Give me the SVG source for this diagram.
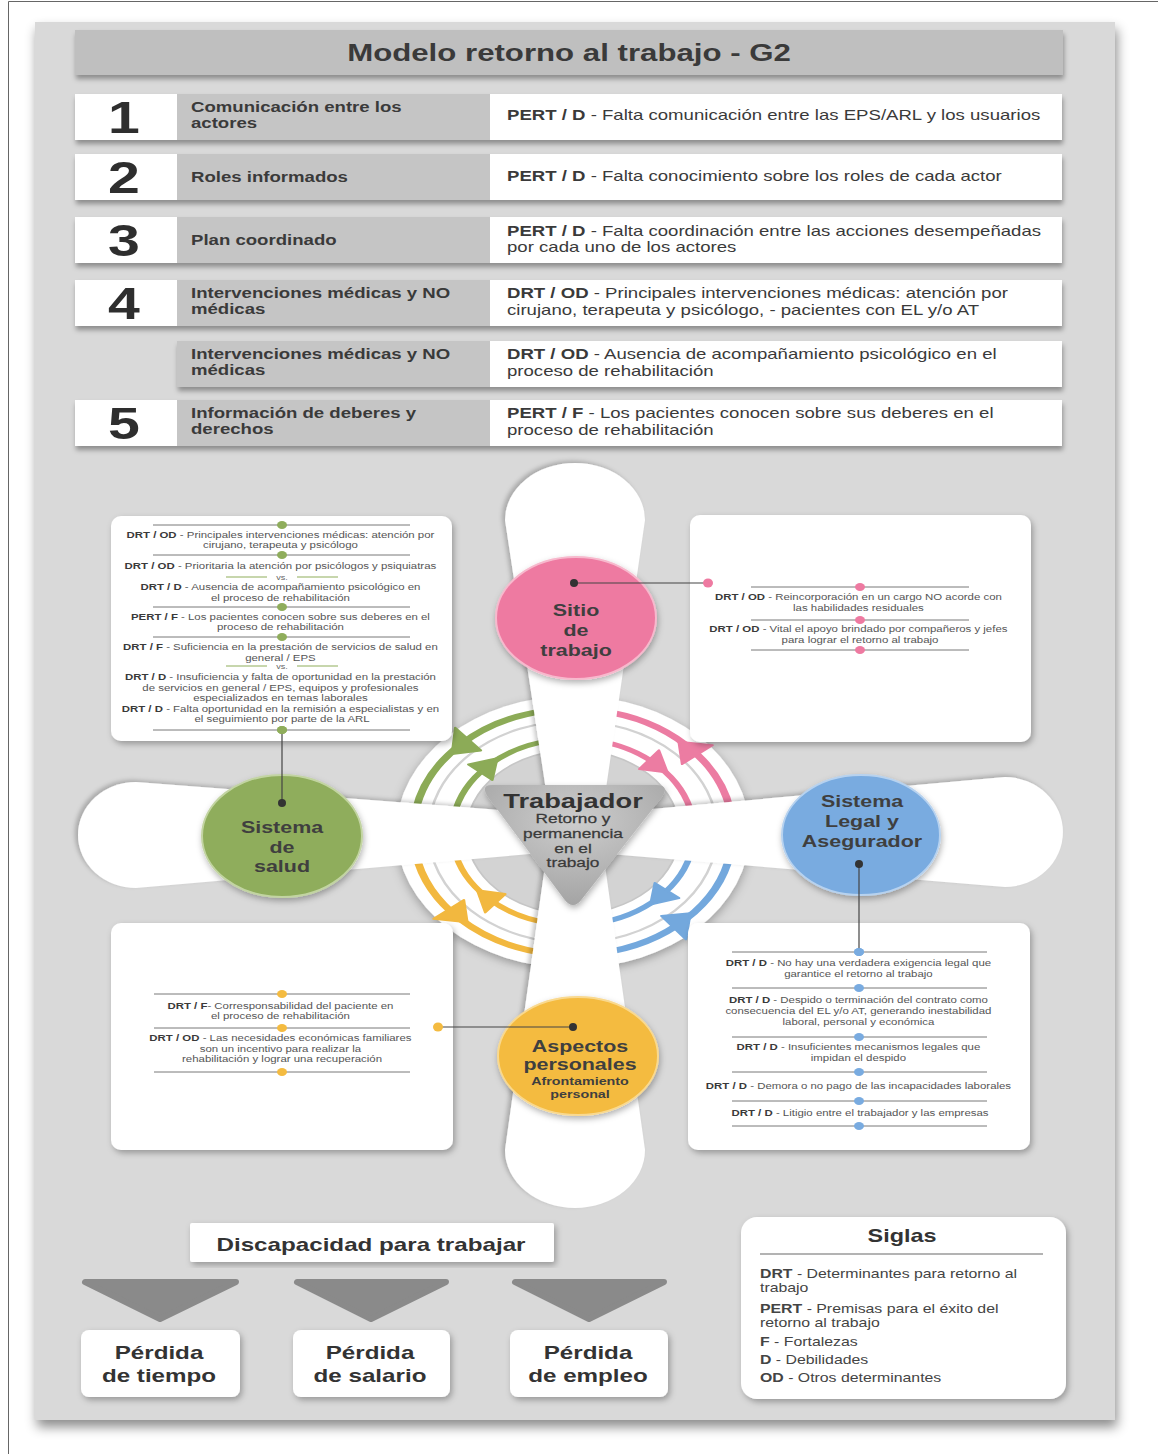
<svg xmlns="http://www.w3.org/2000/svg" width="1158" height="1454" viewBox="0 0 1158 1454">
<defs>
<style>
text{font-family:"Liberation Sans",Arial,Helvetica,sans-serif;fill:#3a3a3a}
.b{font-weight:bold}
.ttl{font-size:24px;font-weight:bold;text-anchor:middle}
.num{font-size:44px;font-weight:bold;text-anchor:middle;fill:#2e2e2e}
.lab{font-size:14.3px;font-weight:bold}
.dsc{font-size:14.3px}
.bx{font-size:8.8px;text-anchor:middle;fill:#555}
.bx .b{fill:#3a3a3a}
.vs{font-size:7px;text-anchor:middle;fill:#666}
.nd{font-size:16.5px;font-weight:bold;text-anchor:middle;fill:#3f3f3f}
.ndS{font-size:11px;font-weight:bold;text-anchor:middle;fill:#3f3f3f}
.tb{font-size:21px;font-weight:bold;text-anchor:middle;fill:#333}
.tbs{font-size:13.3px;text-anchor:middle;fill:#3a3a3a;stroke:#3a3a3a;stroke-width:.25}
.big{font-size:18.6px;font-weight:bold;text-anchor:middle;fill:#333}
.sg{font-size:12.2px;fill:#444}
.sgt{font-size:18px;font-weight:bold;text-anchor:middle;fill:#333}
.cell{fill:#fff}
.gcell{fill:#c5c5c5}
.sep{stroke:#555;stroke-width:.8}
.card{fill:#fff}
.petal{fill:#fff}
.link{stroke:#444;stroke-width:1.2;fill:none}
.pin{fill:#333}
</style>
<filter id="shRow" x="-5%" y="-20%" width="110%" height="160%">
  <feDropShadow dx="1" dy="4" stdDeviation="2.5" flood-color="#000" flood-opacity="0.35"/>
</filter>
<filter id="shCard" x="-10%" y="-10%" width="125%" height="125%">
  <feDropShadow dx="2" dy="3" stdDeviation="3" flood-color="#000" flood-opacity="0.3"/>
</filter>
<filter id="shPanel" x="-5%" y="-5%" width="110%" height="110%">
  <feDropShadow dx="2" dy="7" stdDeviation="6" flood-color="#000" flood-opacity="0.45"/>
</filter>
<filter id="shPetal" x="-20%" y="-20%" width="140%" height="140%">
  <feDropShadow dx="-3" dy="-2" stdDeviation="2" flood-color="#000" flood-opacity="0.22"/>
</filter>
<filter id="shRing" x="-20%" y="-20%" width="140%" height="140%">
  <feDropShadow dx="0" dy="3" stdDeviation="4" flood-color="#000" flood-opacity="0.3"/>
</filter>
<filter id="shNode" x="-20%" y="-20%" width="140%" height="140%">
  <feDropShadow dx="1" dy="3" stdDeviation="3" flood-color="#000" flood-opacity="0.3"/>
</filter>
<radialGradient id="gTri" cx="50%" cy="30%" r="70%">
  <stop offset="0" stop-color="#cdcdcd"/>
  <stop offset="1" stop-color="#a4a4a4"/>
</radialGradient>
<!-- arrowheads drawn at angle 0 of the ring; outer points counter-clockwise, inner clockwise -->
<path id="aho" d="M108,0 L138,0 L120,-19 Z" stroke-width="2" stroke-linejoin="round"/>
<path id="ahi" d="M81,0 L105,0 L92,19 Z" stroke-width="2" stroke-linejoin="round"/>
</defs>

<!-- frame and background panel -->
<rect width="1158" height="1454" fill="#fff"/>
<path d="M1158,1.5 H8.5 V1454" fill="none" stroke="#666" stroke-width="1"/>
<rect x="35" y="22" width="1080" height="1398" fill="#d9d9d9" filter="url(#shPanel)"/>

<!-- header -->
<g id="titulo">
  <rect x="75" y="30" width="988" height="45" fill="#bfbfbf" filter="url(#shRow)"/>
  <text class="ttl" transform="matrix(1.3 0 0 1 569 0)" y="61">Modelo retorno al trabajo - G2</text>
</g>

<!-- table rows -->
<g id="fila1">
  <g filter="url(#shRow)">
    <rect class="cell" x="75" y="94" width="102" height="46"/>
    <rect class="gcell" x="177" y="94" width="313" height="46"/>
    <rect class="cell" x="490" y="94" width="572" height="46"/>
  </g>
  <text class="num" transform="matrix(1.3 0 0 1 124 0)" y="133">1</text>
  <text class="lab" transform="matrix(1.3 0 0 1 191 0)"><tspan x="0" y="112">Comunicación entre los</tspan><tspan x="0" y="128">actores</tspan></text>
  <text class="dsc" transform="matrix(1.3 0 0 1 507 0)" y="120"><tspan class="b">PERT / D</tspan> - Falta comunicación entre las EPS/ARL y los usuarios</text>
</g>
<g id="fila2">
  <g filter="url(#shRow)">
    <rect class="cell" x="75" y="154" width="102" height="46"/>
    <rect class="gcell" x="177" y="154" width="313" height="46"/>
    <rect class="cell" x="490" y="154" width="572" height="46"/>
  </g>
  <text class="num" transform="matrix(1.3 0 0 1 124 0)" y="193">2</text>
  <text class="lab" transform="matrix(1.3 0 0 1 191 0)" y="182">Roles informados</text>
  <text class="dsc" transform="matrix(1.3 0 0 1 507 0)" y="181"><tspan class="b">PERT / D</tspan> - Falta conocimiento sobre los roles de cada actor</text>
</g>
<g id="fila3">
  <g filter="url(#shRow)">
    <rect class="cell" x="75" y="217" width="102" height="46"/>
    <rect class="gcell" x="177" y="217" width="313" height="46"/>
    <rect class="cell" x="490" y="217" width="572" height="46"/>
  </g>
  <text class="num" transform="matrix(1.3 0 0 1 124 0)" y="256">3</text>
  <text class="lab" transform="matrix(1.3 0 0 1 191 0)" y="245">Plan coordinado</text>
  <text class="dsc" transform="matrix(1.3 0 0 1 507 0)"><tspan x="0" y="236"><tspan class="b">PERT / D</tspan> - Falta coordinación entre las acciones desempeñadas</tspan><tspan x="0" y="252">por cada uno de los actores</tspan></text>
</g>
<g id="fila4">
  <g filter="url(#shRow)">
    <rect class="cell" x="75" y="280" width="102" height="46"/>
    <rect class="gcell" x="177" y="280" width="313" height="46"/>
    <rect class="cell" x="490" y="280" width="572" height="46"/>
  </g>
  <text class="num" transform="matrix(1.3 0 0 1 124 0)" y="319">4</text>
  <text class="lab" transform="matrix(1.3 0 0 1 191 0)"><tspan x="0" y="298">Intervenciones médicas y NO</tspan><tspan x="0" y="314">médicas</tspan></text>
  <text class="dsc" transform="matrix(1.3 0 0 1 507 0)"><tspan x="0" y="298"><tspan class="b">DRT / OD</tspan> - Principales intervenciones médicas: atención por</tspan><tspan x="0" y="315">cirujano, terapeuta y psicólogo, - pacientes con EL y/o AT</tspan></text>
</g>
<g id="fila4b">
  <g filter="url(#shRow)">
    <rect class="gcell" x="177" y="341" width="313" height="46"/>
    <rect class="cell" x="490" y="341" width="572" height="46"/>
  </g>
  <text class="lab" transform="matrix(1.3 0 0 1 191 0)"><tspan x="0" y="359">Intervenciones médicas y NO</tspan><tspan x="0" y="375">médicas</tspan></text>
  <text class="dsc" transform="matrix(1.3 0 0 1 507 0)"><tspan x="0" y="359"><tspan class="b">DRT / OD</tspan> - Ausencia de acompañamiento psicológico en el</tspan><tspan x="0" y="376">proceso de rehabilitación</tspan></text>
</g>
<g id="fila5">
  <g filter="url(#shRow)">
    <rect class="cell" x="75" y="400" width="102" height="46"/>
    <rect class="gcell" x="177" y="400" width="313" height="46"/>
    <rect class="cell" x="490" y="400" width="572" height="46"/>
  </g>
  <text class="num" transform="matrix(1.3 0 0 1 124 0)" y="439">5</text>
  <text class="lab" transform="matrix(1.3 0 0 1 191 0)"><tspan x="0" y="418">Información de deberes y</tspan><tspan x="0" y="434">derechos</tspan></text>
  <text class="dsc" transform="matrix(1.3 0 0 1 507 0)"><tspan x="0" y="418"><tspan class="b">PERT / F</tspan> - Los pacientes conocen sobre sus deberes en el</tspan><tspan x="0" y="435">proceso de rehabilitación</tspan></text>
</g>

<!-- central cycle: rings and flow arrows (drawn round, stretched to the page aspect) -->
<g id="ciclo" transform="matrix(1.3 0 0 1 573 832)">
  <circle r="136" fill="#fff" filter="url(#shRing)"/>
  <circle r="111" fill="none" stroke="#d2d2d2" stroke-width="2"/>
  <circle r="82" fill="#d3d3d3" stroke="#c6c6c6" stroke-width="1.5"/>
  <g fill="none" stroke-width="6">
    <path stroke="#8cab57" d="M-121.1,-21.4 A123,123 0 0 1 -21.4,-121.1"/>
    <path stroke="#ec7ca2" d="M21.4,-121.1 A123,123 0 0 1 121.1,-21.4"/>
    <path stroke="#73a8dd" d="M121.1,21.4 A123,123 0 0 1 21.4,121.1"/>
    <path stroke="#f2b83f" d="M-21.4,121.1 A123,123 0 0 1 -121.1,21.4"/>
  </g>
  <g fill="none" stroke-width="5">
    <path stroke="#8cab57" d="M-91.6,-16.1 A93,93 0 0 1 -16.1,-91.6"/>
    <path stroke="#ec7ca2" d="M16.1,-91.6 A93,93 0 0 1 91.6,-16.1"/>
    <path stroke="#73a8dd" d="M91.6,16.1 A93,93 0 0 1 16.1,91.6"/>
    <path stroke="#f2b83f" d="M-16.1,91.6 A93,93 0 0 1 -91.6,16.1"/>
  </g>
  <use href="#aho" fill="#8cab57" stroke="#8cab57" transform="rotate(229)"/>
  <use href="#aho" fill="#ec7ca2" stroke="#ec7ca2" transform="rotate(321)"/>
  <use href="#aho" fill="#73a8dd" stroke="#73a8dd" transform="rotate(51)"/>
  <use href="#aho" fill="#f2b83f" stroke="#f2b83f" transform="rotate(141)"/>
  <use href="#ahi" fill="#8cab57" stroke="#8cab57" transform="rotate(220)"/>
  <use href="#ahi" fill="#ec7ca2" stroke="#ec7ca2" transform="rotate(309)"/>
  <use href="#ahi" fill="#73a8dd" stroke="#73a8dd" transform="rotate(39)"/>
  <use href="#ahi" fill="#f2b83f" stroke="#f2b83f" transform="rotate(130)"/>
</g>

<!-- petals radiating from the centre -->
<g id="petalos" filter="url(#shPetal)">
  <path class="petal" d="M552,830 L505,520 A70,57 0 0 1 645,520 L600,830 Z"/>
  <path class="petal" d="M550,830 L505,1150 A70,58 0 0 0 645,1150 L600,830 Z"/>
  <path class="petal" d="M565,815 L136,782 A58,53 0 0 0 136,888 L565,851 Z"/>
  <path class="petal" d="M585,815 L1005,777 A58,55 0 0 1 1005,887 L585,852 Z"/>
</g>

<!-- centre: worker -->
<g id="trabajador">
  <path d="M492,785 L656,785 Q670,785 662,797 L582,899 Q573,911 564,899 L488,797 Q480,785 492,785 Z" fill="url(#gTri)" filter="url(#shNode)"/>
  <text class="tb" transform="matrix(1.3 0 0 1 573 0)" y="808">Trabajador</text>
  <text class="tbs" transform="matrix(1.3 0 0 1 573 0)"><tspan x="0" y="823">Retorno y</tspan><tspan x="0" y="838">permanencia</tspan><tspan x="0" y="853">en el</tspan><tspan x="0" y="867">trabajo</tspan></text>
</g>

<!-- actor nodes -->
<g id="sitio-trabajo">
  <ellipse cx="576" cy="618" rx="80" ry="61" fill="#ee7aa1" stroke="#f7b9cd" stroke-width="2" filter="url(#shNode)"/>
  <text class="nd" transform="matrix(1.3 0 0 1 576 0)"><tspan x="0" y="616">Sitio</tspan><tspan x="0" y="636">de</tspan><tspan x="0" y="656">trabajo</tspan></text>
</g>
<g id="sistema-salud">
  <ellipse cx="282" cy="836" rx="80" ry="61" fill="#8fad5b" stroke="#c2d4a2" stroke-width="2" filter="url(#shNode)"/>
  <text class="nd" transform="matrix(1.3 0 0 1 282 0)"><tspan x="0" y="833">Sistema</tspan><tspan x="0" y="853">de</tspan><tspan x="0" y="872">salud</tspan></text>
</g>
<g id="sistema-legal">
  <ellipse cx="861" cy="835" rx="79" ry="60" fill="#79abe0" stroke="#b7d2ef" stroke-width="2" filter="url(#shNode)"/>
  <text class="nd" transform="matrix(1.3 0 0 1 862 0)"><tspan x="0" y="807">Sistema</tspan><tspan x="0" y="827">Legal y</tspan><tspan x="0" y="847">Asegurador</tspan></text>
</g>
<g id="aspectos-personales">
  <ellipse cx="578" cy="1056" rx="80" ry="59" fill="#f4bb40" stroke="#f9d98f" stroke-width="2" filter="url(#shNode)"/>
  <text class="nd" transform="matrix(1.3 0 0 1 580 0)"><tspan x="0" y="1052">Aspectos</tspan><tspan x="0" y="1070">personales</tspan></text>
  <text class="ndS" transform="matrix(1.3 0 0 1 580 0)"><tspan x="0" y="1085">Afrontamiento</tspan><tspan x="0" y="1098">personal</tspan></text>
</g>

<!-- determinant cards -->
<g id="card-salud">
  <rect class="card" x="111" y="516" width="341" height="225" rx="10" filter="url(#shCard)"/>
  <g class="sep">
    <line x1="153" y1="525" x2="410" y2="525"/><line x1="153" y1="555" x2="410" y2="555"/>
    <line x1="153" y1="607" x2="410" y2="607"/><line x1="153" y1="637" x2="410" y2="637"/>
    <line x1="153" y1="730" x2="410" y2="730"/>
  </g>
  <g stroke="#8fad5b" stroke-width="1">
    <line x1="226" y1="577" x2="267" y2="577"/><line x1="297" y1="577" x2="338" y2="577"/>
    <line x1="226" y1="666" x2="267" y2="666"/><line x1="297" y1="666" x2="338" y2="666"/>
  </g>
  <g fill="#8fad5b">
    <ellipse cx="282" cy="525" rx="5" ry="4"/><ellipse cx="282" cy="555" rx="5" ry="4"/>
    <ellipse cx="282" cy="607" rx="5" ry="4"/><ellipse cx="282" cy="637" rx="5" ry="4"/>
    <ellipse cx="282" cy="730" rx="5" ry="4"/>
  </g>
  <text class="bx" transform="matrix(1.3 0 0 1 282 0)">
    <tspan x="0" y="538"><tspan class="b">DRT / OD</tspan> - Principales intervenciones médicas: atención por</tspan>
    <tspan x="0" y="548">cirujano, terapeuta y psicólogo</tspan>
    <tspan x="0" y="569"><tspan class="b">DRT / OD</tspan> - Prioritaria la atención por psicólogos y psiquiatras</tspan>
    <tspan x="0" y="590"><tspan class="b">DRT / D</tspan> - Ausencia de acompañamiento psicológico en</tspan>
    <tspan x="0" y="601">el proceso de rehabilitación</tspan>
    <tspan x="0" y="620"><tspan class="b">PERT / F</tspan> - Los pacientes conocen sobre sus deberes en el</tspan>
    <tspan x="0" y="630">proceso de rehabilitación</tspan>
    <tspan x="0" y="650"><tspan class="b">DRT / F</tspan> - Suficiencia en la prestación de servicios de salud en</tspan>
    <tspan x="0" y="661">general / EPS</tspan>
    <tspan x="0" y="680"><tspan class="b">DRT / D</tspan> - Insuficiencia y falta de oportunidad en la prestación</tspan>
    <tspan x="0" y="691">de servicios en general / EPS, equipos y profesionales</tspan>
    <tspan x="0" y="701">especializados en temas laborales</tspan>
    <tspan x="0" y="712"><tspan class="b">DRT / D</tspan> - Falta oportunidad en la remisión a especialistas y en</tspan>
    <tspan x="0" y="722">el seguimiento por parte de la ARL</tspan>
  </text>
  <text class="vs" transform="matrix(1.3 0 0 1 282 0)"><tspan x="0" y="580">vs.</tspan><tspan x="0" y="669">vs.</tspan></text>
</g>

<g id="card-trabajo">
  <rect class="card" x="690" y="515" width="341" height="227" rx="10" filter="url(#shCard)"/>
  <g class="sep">
    <line x1="751" y1="587" x2="969" y2="587"/><line x1="751" y1="620" x2="969" y2="620"/>
    <line x1="751" y1="650" x2="969" y2="650"/>
  </g>
  <g fill="#ee7aa1">
    <ellipse cx="860" cy="587" rx="5" ry="4"/><ellipse cx="860" cy="620" rx="5" ry="4"/>
    <ellipse cx="860" cy="650" rx="5" ry="4"/>
  </g>
  <text class="bx" transform="matrix(1.3 0 0 1 860 0)">
    <tspan x="0" y="600"><tspan class="b">DRT / OD</tspan> - Reincorporación en un cargo NO acorde con</tspan>
    <tspan x="0" y="611">las habilidades residuales</tspan>
    <tspan x="0" y="632"><tspan class="b">DRT / OD</tspan> - Vital el apoyo brindado por compañeros y jefes</tspan>
    <tspan x="0" y="643">para lograr el retorno al trabajo</tspan>
  </text>
</g>

<g id="card-personal">
  <rect class="card" x="111" y="923" width="342" height="227" rx="10" filter="url(#shCard)"/>
  <g class="sep">
    <line x1="154" y1="994" x2="410" y2="994"/><line x1="154" y1="1028" x2="410" y2="1028"/>
    <line x1="154" y1="1072" x2="410" y2="1072"/>
  </g>
  <g fill="#f4bb40">
    <ellipse cx="282" cy="994" rx="5" ry="4"/><ellipse cx="282" cy="1028" rx="5" ry="4"/>
    <ellipse cx="282" cy="1072" rx="5" ry="4"/>
  </g>
  <text class="bx" transform="matrix(1.3 0 0 1 282 0)">
    <tspan x="0" y="1009"><tspan class="b">DRT / F</tspan>- Corresponsabilidad del paciente en</tspan>
    <tspan x="0" y="1019">el proceso de rehabilitación</tspan>
    <tspan x="0" y="1041"><tspan class="b">DRT / OD</tspan> - Las necesidades económicas familiares</tspan>
    <tspan x="0" y="1052">son un incentivo para realizar la</tspan>
    <tspan x="0" y="1062">rehabilitación y lograr una recuperación</tspan>
  </text>
</g>

<g id="card-legal">
  <rect class="card" x="688" y="923" width="342" height="227" rx="10" filter="url(#shCard)"/>
  <g class="sep">
    <line x1="732" y1="952" x2="987" y2="952"/><line x1="732" y1="988" x2="987" y2="988"/>
    <line x1="732" y1="1037" x2="987" y2="1037"/><line x1="732" y1="1072" x2="987" y2="1072"/>
    <line x1="732" y1="1101" x2="987" y2="1101"/><line x1="732" y1="1126" x2="987" y2="1126"/>
  </g>
  <g fill="#79abe0">
    <ellipse cx="859" cy="952" rx="5" ry="4"/><ellipse cx="859" cy="988" rx="5" ry="4"/>
    <ellipse cx="859" cy="1037" rx="5" ry="4"/><ellipse cx="859" cy="1072" rx="5" ry="4"/>
    <ellipse cx="859" cy="1101" rx="5" ry="4"/><ellipse cx="859" cy="1126" rx="5" ry="4"/>
  </g>
  <text class="bx" transform="matrix(1.3 0 0 1 860 0)">
    <tspan x="0" y="966"><tspan class="b">DRT / D</tspan> - No hay una verdadera exigencia legal que</tspan>
    <tspan x="0" y="977">garantice el retorno al trabajo</tspan>
    <tspan x="0" y="1003"><tspan class="b">DRT / D</tspan> - Despido o terminación del contrato como</tspan>
    <tspan x="0" y="1014">consecuencia del EL y/o AT, generando inestabilidad</tspan>
    <tspan x="0" y="1025">laboral, personal y económica</tspan>
    <tspan x="0" y="1050"><tspan class="b">DRT / D</tspan> - Insuficientes mecanismos legales que</tspan>
    <tspan x="0" y="1061">impidan el despido</tspan>
    <tspan x="0" y="1089"><tspan class="b">DRT / D</tspan> - Demora o no pago de las incapacidades laborales</tspan>
    <tspan x="0" y="1116"><tspan class="b">DRT / D</tspan> - Litigio entre el trabajador y las empresas</tspan>
  </text>
</g>

<!-- leader lines from each actor to its card -->
<g id="conectores">
  <line class="link" x1="574" y1="583" x2="708" y2="583"/>
  <line class="link" x1="282" y1="803" x2="282" y2="730"/>
  <line class="link" x1="859" y1="864" x2="859" y2="952"/>
  <line class="link" x1="573" y1="1027" x2="438" y2="1027"/>
  <circle class="pin" cx="574" cy="583" r="4"/>
  <circle class="pin" cx="282" cy="803" r="4"/>
  <circle class="pin" cx="859" cy="864" r="4"/>
  <circle class="pin" cx="573" cy="1027" r="4"/>
  <ellipse cx="708" cy="583" rx="5" ry="4.5" fill="#ee7aa1"/>
  <ellipse cx="282" cy="730" rx="5" ry="4" fill="#8fad5b"/>
  <ellipse cx="859" cy="952" rx="5" ry="4" fill="#79abe0"/>
  <ellipse cx="438" cy="1027" rx="5" ry="4.5" fill="#f4bb40"/>
</g>

<!-- consequences -->
<g id="discapacidad">
  <rect x="190" y="1223" width="364" height="39" fill="#fff" rx="2" filter="url(#shCard)"/>
  <text class="big" transform="matrix(1.3 0 0 1 371 0)" y="1251">Discapacidad para trabajar</text>
</g>
<g id="flechas-perdida" fill="#8a8a8a" stroke="#8a8a8a" stroke-width="6" stroke-linejoin="round">
  <polygon points="85,1282 236,1282 160,1319"/>
  <polygon points="297,1282 446,1282 371,1319"/>
  <polygon points="515,1282 664,1282 589,1319"/>
</g>
<g id="perdida-tiempo">
  <rect x="81" y="1330" width="159" height="67" rx="8" fill="#fff" filter="url(#shCard)"/>
  <text class="big" transform="matrix(1.3 0 0 1 159 0)"><tspan x="0" y="1359">Pérdida</tspan><tspan x="0" y="1382">de tiempo</tspan></text>
</g>
<g id="perdida-salario">
  <rect x="293" y="1330" width="157" height="67" rx="8" fill="#fff" filter="url(#shCard)"/>
  <text class="big" transform="matrix(1.3 0 0 1 370 0)"><tspan x="0" y="1359">Pérdida</tspan><tspan x="0" y="1382">de salario</tspan></text>
</g>
<g id="perdida-empleo">
  <rect x="510" y="1330" width="158" height="67" rx="8" fill="#fff" filter="url(#shCard)"/>
  <text class="big" transform="matrix(1.3 0 0 1 588 0)"><tspan x="0" y="1359">Pérdida</tspan><tspan x="0" y="1382">de empleo</tspan></text>
</g>

<!-- abbreviations -->
<g id="siglas">
  <rect x="741" y="1217" width="325" height="182" rx="16" fill="#fff" filter="url(#shCard)"/>
  <text class="sgt" transform="matrix(1.3 0 0 1 902 0)" y="1242">Siglas</text>
  <line x1="760" y1="1254" x2="1043" y2="1254" stroke="#9a9a9a" stroke-width="1.5"/>
  <text class="sg" transform="matrix(1.3 0 0 1 760 0)">
    <tspan x="0" y="1278"><tspan class="b">DRT</tspan> - Determinantes para retorno al</tspan>
    <tspan x="0" y="1292">trabajo</tspan>
    <tspan x="0" y="1313"><tspan class="b">PERT</tspan> - Premisas para el éxito del</tspan>
    <tspan x="0" y="1327">retorno al trabajo</tspan>
    <tspan x="0" y="1346"><tspan class="b">F</tspan> - Fortalezas</tspan>
    <tspan x="0" y="1364"><tspan class="b">D</tspan> - Debilidades</tspan>
    <tspan x="0" y="1382"><tspan class="b">OD</tspan> - Otros determinantes</tspan>
  </text>
</g>
</svg>
